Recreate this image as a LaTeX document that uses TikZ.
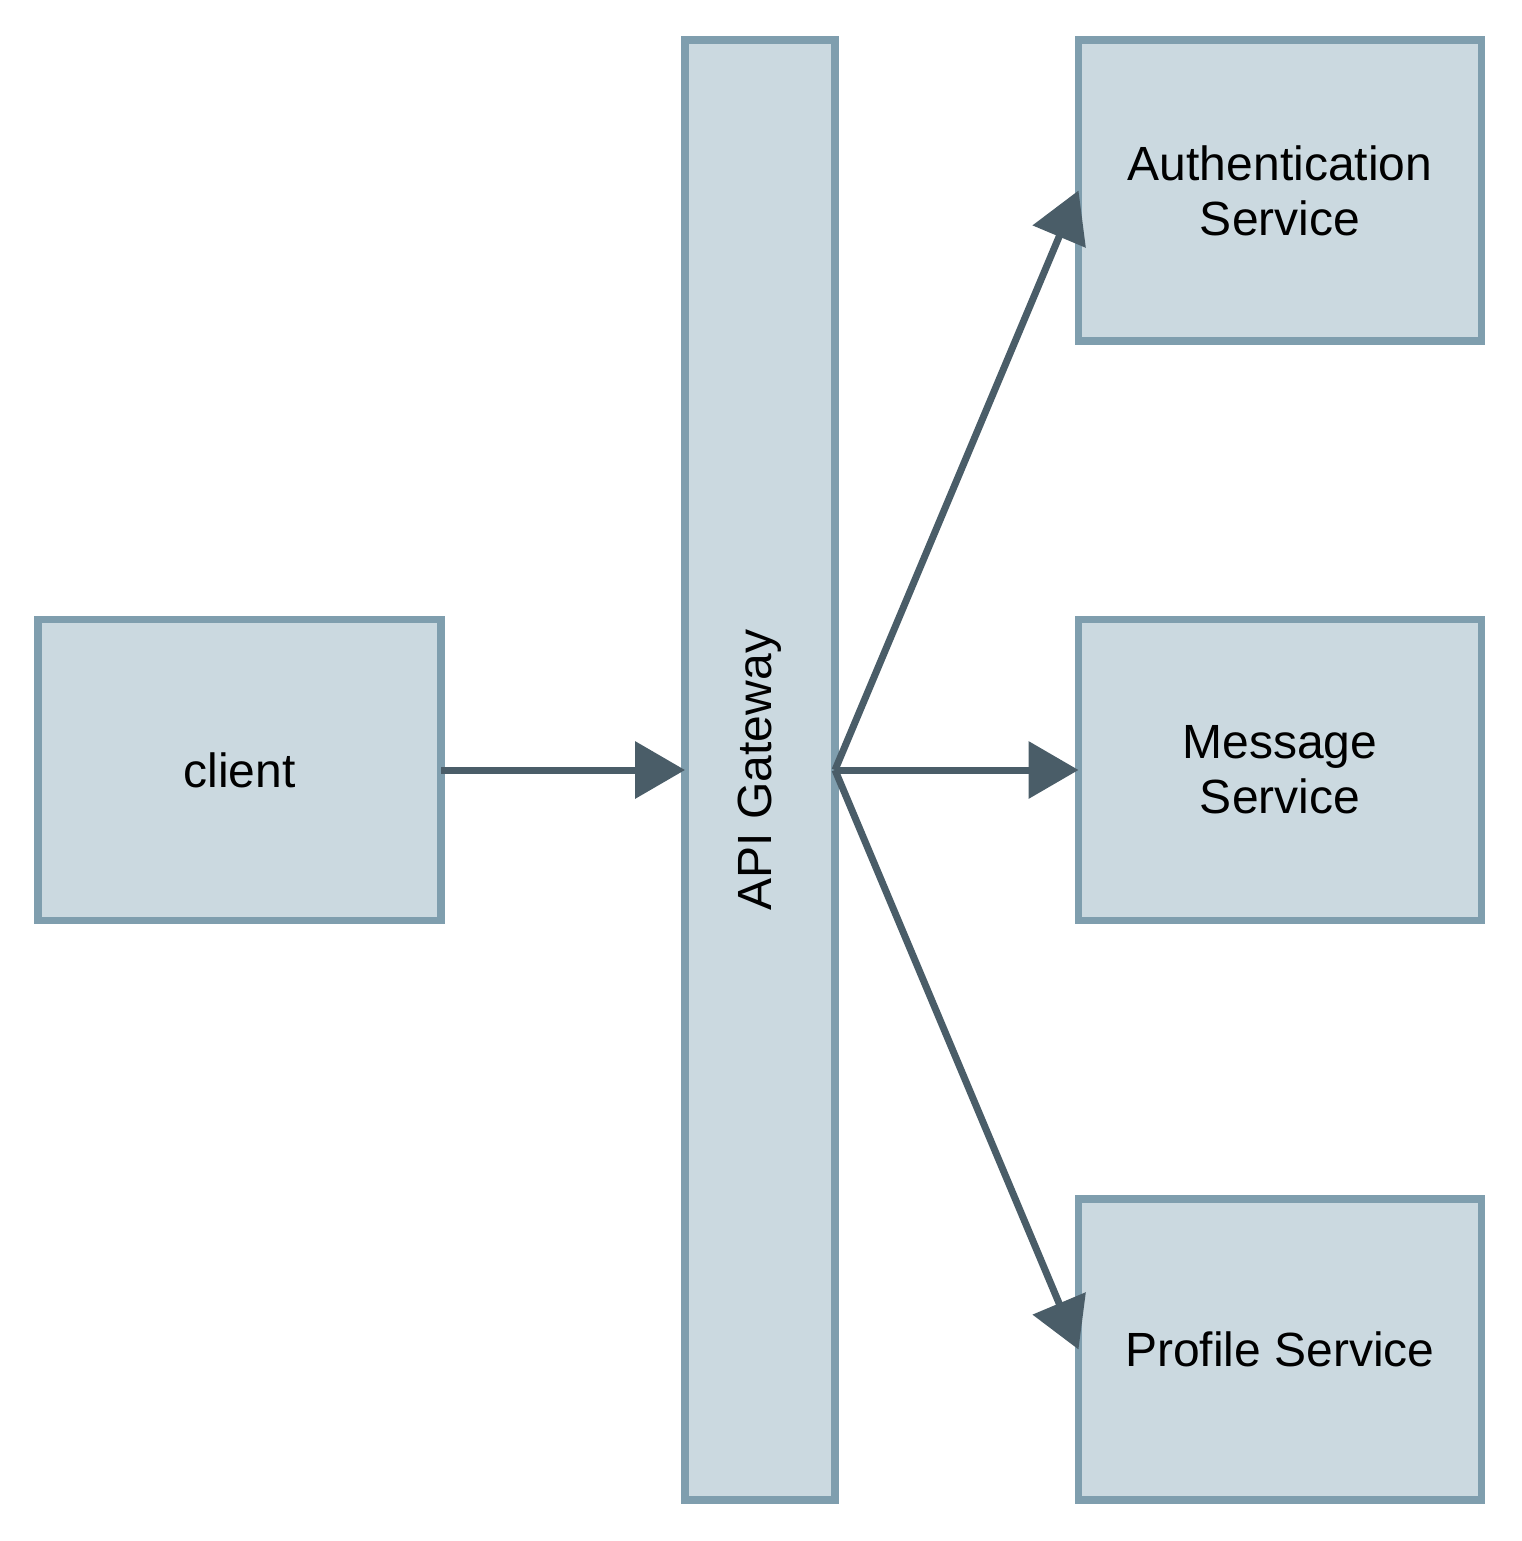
\documentclass[tikz,border=0pt]{standalone}
\usepackage{fontspec}
\setmainfont{Liberation Sans}
\usetikzlibrary{arrows.meta}
\definecolor{boxfill}{HTML}{CBD9E0}
\definecolor{boxline}{HTML}{7F9EAE}
\definecolor{arrowcol}{HTML}{4A5D68}
\begin{document}
\begin{tikzpicture}[x=1pt,y=-1pt,
  svcbox/.style={draw=boxline,fill=boxfill,line width=7.5pt,outer sep=0pt,minimum width=403pt,minimum height=301pt,align=center,inner sep=0pt,font=\fontsize{48}{55}\selectfont},
  gwbox/.style={draw=boxline,fill=boxfill,line width=7.5pt,outer sep=0pt,minimum width=150pt,minimum height=1460pt,inner sep=0pt},
  conn/.style={draw=arrowcol,line width=7pt,-{Triangle[length=50pt,width=56pt]}}]
\useasboundingbox (0,0) rectangle (1522,1541);
\node[svcbox] (client) at (239.5,770) {client};
\node[gwbox] (gw) at (760,770) {};
\node[rotate=90,font=\fontsize{48}{55}\selectfont] (gwlabel) at (760,770) {API Gateway};
\node[svcbox] (auth) at (1280,190.5) {Authentication\\Service};
\node[svcbox] (msg) at (1280,770) {Message\\Service};
\node[svcbox] (prof) at (1280,1349.5) {Profile Service};
\draw[conn] (client.east) -- (gw.west);
\draw[conn] (gw.east) -- (msg.west);
\draw[conn] (gw.east) -- (auth.west);
\draw[conn] (gw.east) -- (prof.west);
\end{tikzpicture}
\end{document}
